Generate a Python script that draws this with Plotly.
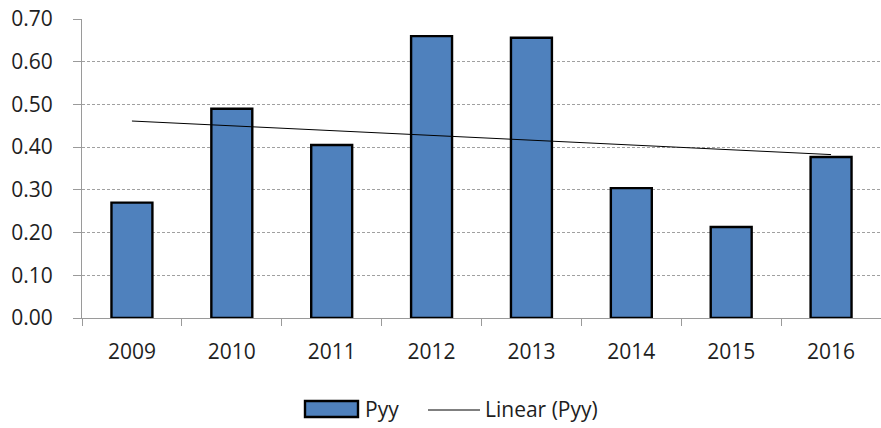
import numpy as np
import plotly.graph_objects as go

years = ["2009", "2010", "2011", "2012", "2013", "2014", "2015", "2016"]
pyy = [0.27, 0.49, 0.405, 0.66, 0.656, 0.304, 0.213, 0.377]
y_ticks = [0.0, 0.1, 0.2, 0.3, 0.4, 0.5, 0.6, 0.7]

xi = np.arange(len(years))
slope, intercept = np.polyfit(xi, pyy, 1)
trend = [float(intercept + slope * i) for i in xi]

FONT = "Open Sans"
BAR_COLOR = "#4F81BD"
TXT = "#1e1e1e"

fig = go.Figure()
fig.add_trace(go.Bar(
    x=years, y=pyy, name="Pyy",
    marker=dict(color=BAR_COLOR, line=dict(color="black", width=2.4)),
))
fig.add_trace(go.Scatter(
    x=years, y=trend, name="Linear (Pyy)", mode="lines",
    line=dict(color="black", width=1),
))

# plot area: x 82..881 px, y 19..318 px
L, R, T, B = 82, 881, 19, 318
W, H = 881, 428
def px_x(p):
    return (p - L) / (R - L)
def px_y(p):
    return (B - p) / (B - T)

shapes = [
    dict(type="rect", xref="paper", yref="paper",
         x0=px_x(305), x1=px_x(358), y0=px_y(417), y1=px_y(401),
         fillcolor=BAR_COLOR, line=dict(color="black", width=2.4)),
    dict(type="line", xref="paper", yref="paper",
         x0=px_x(428), x1=px_x(480), y0=px_y(410), y1=px_y(410),
         line=dict(color="black", width=1)),
]
annotations = [
    dict(text="Pyy", xref="paper", yref="paper", x=px_x(363), y=px_y(409),
         xanchor="left", yanchor="middle", showarrow=False,
         font=dict(family=FONT, size=21, color=TXT)),
    dict(text="Linear (Pyy)", xref="paper", yref="paper", x=px_x(483), y=px_y(409),
         xanchor="left", yanchor="middle", showarrow=False,
         font=dict(family=FONT, size=21, color=TXT)),
]

fig.update_layout(
    width=W, height=H,
    margin=dict(l=L, r=W - R, t=T, b=H - B, autoexpand=False),
    plot_bgcolor="white", paper_bgcolor="white",
    bargap=0.59,
    font=dict(family=FONT, size=21, color=TXT),
    showlegend=False,
    shapes=shapes,
    annotations=annotations,
    xaxis=dict(
        type="category", range=[-0.5, 7.5], tickson="boundaries",
        ticks="outside", ticklen=7, tickcolor="#9a9a9a",
        showline=True, linecolor="#9a9a9a", linewidth=1,
        showgrid=False, zeroline=False, automargin=False,
        ticklabelstandoff=15,
    ),
    yaxis=dict(
        range=[0, 0.7], tickvals=y_ticks, tickformat=".2f",
        ticks="outside", ticklen=8, tickcolor="#9a9a9a",
        showline=True, linecolor="#9a9a9a", linewidth=1,
        showgrid=True, gridcolor="#a0a0a0", griddash="3px,2px", gridwidth=1,
        zeroline=False, automargin=False, ticklabelstandoff=16,
    ),
)

fig.write_html(
    "out.html",
    config={"displayModeBar": False},
    post_script="document.body.style.margin='0';document.body.style.overflow='hidden';",
)
